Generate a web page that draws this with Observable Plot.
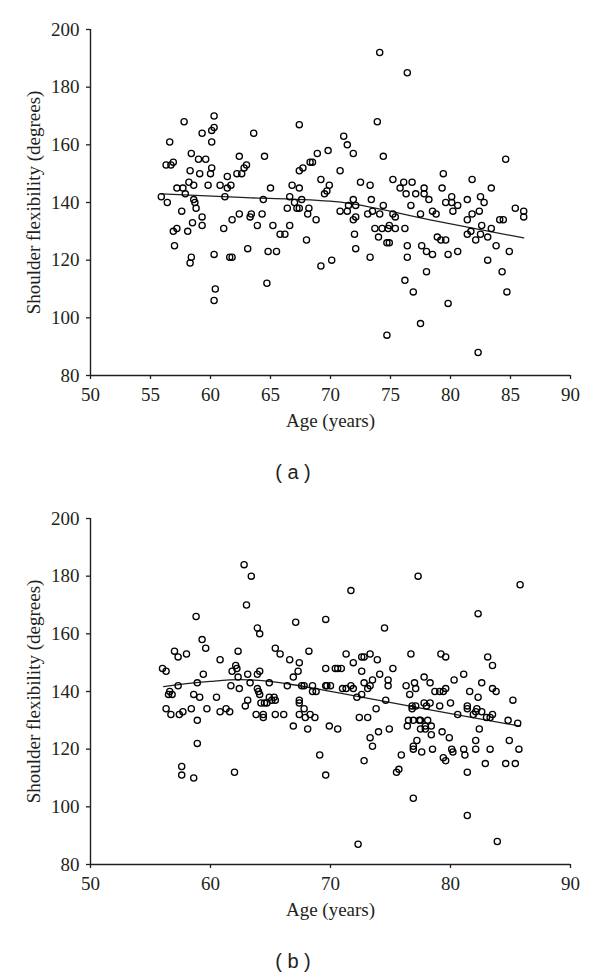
<!DOCTYPE html>
<html>
<head>
<meta charset="utf-8">
<script src="https://cdn.jsdelivr.net/npm/d3@7"></script>
<script src="https://cdn.jsdelivr.net/npm/@observablehq/plot@0.6"></script>
<style>
  html, body { margin: 0; padding: 0; background: #fff; }
  .panel { position: relative; width: 600px; }
  .cap { width: 600px; text-align: center; font-family: "Liberation Sans", Arial, sans-serif; font-size: 20px; color: #231f20; padding-right: 14px; box-sizing: border-box; white-space: pre; }
  svg { display: block; }
</style>
</head>
<body>
<div id="a" class="panel" style="height:489px"></div>
<div id="b" class="panel" style="height:487px"></div>
<script>
const yLabel = "Shoulder flexibility (degrees)";
const xLabel = "Age (years)";
const captions = ["( a )", "( b )"];
const yTicks = [80, 100, 120, 140, 160, 180, 200];
const xTicksA = [50, 55, 60, 65, 70, 75, 80, 85, 90];
const xTicksB = [50, 60, 70, 80, 90];

// Panel (a): [age, shoulder flexibility]
const pointsA = [
[55.9,142],[56.4,140],[56.3,153],[56.6,161],[56.7,153],[56.9,154],[56.9,130],[57.2,131],[57.0,125],[57.2,145],
[57.6,137],[57.7,145],[57.8,168],[57.9,143],[58.2,147],[58.3,151],[58.4,157],[58.1,130],[58.5,133],[58.4,121],
[58.3,119],[58.6,146],[58.6,141],[58.7,140],[58.8,138],[59.0,155],[59.1,150],[59.3,164],[59.3,135],[59.3,132],
[59.6,155],[59.8,146],[60.0,150],[60.1,152],[60.1,161],[60.1,165],[60.3,166],[60.3,170],[60.3,122],[60.4,110],
[60.3,106],[60.8,146],[61.1,131],[61.2,142],[61.4,149],[61.4,145],[61.7,146],[61.8,134],[61.6,121],[61.8,121],
[62.2,150],[62.4,156],[62.4,136],[62.6,150],[62.8,152],[63.0,153],[63.1,124],[63.3,135],[63.4,136],[63.6,164],
[63.9,132],[64.3,136],[64.4,141],[64.5,156],[64.7,112],[64.8,123],[65.0,145],[65.2,132],[65.5,123],[65.8,129],
[66.2,129],[66.6,142],[66.6,132],[66.8,146],[66.4,138],[67.0,140],[67.2,138],
[67.4,138],[67.4,145],[67.6,141],[67.4,167],[67.4,151],[67.7,152],[68.0,127],[68.1,136],[68.2,138],[68.3,154],
[68.5,154],[68.8,134],[68.9,157],[69.2,148],[69.2,118],[69.5,143],[69.7,144],[69.8,158],[69.9,146],[70.1,120],
[70.8,151],[70.8,137],[71.1,163],[71.4,160],[71.4,137],[71.5,139],[71.9,157],[71.9,141],[71.9,134],[72.1,139],
[72.1,135],[72.0,129],[72.1,124],[72.5,147],[73.3,146],[73.4,141],[73.1,136],[73.5,137],[73.3,121],[73.9,168],
[74.1,192],[73.7,131],[74.0,128],[74.1,136],[74.4,139],[74.4,156],[74.3,131],[74.7,126],[74.9,126],[74.9,132],
[74.8,131],[74.7,94],[75.2,148],[75.2,136],[75.4,135],[75.4,131],[75.8,145],[76.1,147],[76.3,143],[76.2,131],
[76.2,113],[76.4,185],[76.4,125],[76.4,121],[76.7,139],[76.8,147],[76.9,109],[77.1,143],[77.5,136],[77.5,98],
[77.6,125],[77.8,145],[77.8,143],[78.0,123],[78.0,116],[78.2,141],[78.5,137],[78.5,122],[78.8,136],[78.9,128],
[79.2,127],[79.6,127],[79.3,145],[79.4,150],[79.6,140],[79.8,122],[79.8,105],[80.1,142],[80.1,140],[80.2,137],
[80.6,139],[80.6,123],[81.4,141],[81.4,134],[81.4,129],[81.7,130],[81.8,148],[81.8,136],[82.1,127],[82.3,88],
[82.5,129],[82.4,137],[82.5,142],[82.6,132],[82.8,140],[83.1,128],[83.1,120],[83.4,131],[83.4,145],[83.8,125],
[84.1,134],[84.3,116],[84.4,134],[84.6,155],[84.7,109],[84.9,123],[85.4,138],[86.1,137],[86.1,135]
];

// Panel (b): [age, shoulder flexibility]
const pointsB = [
[56.0,148],[56.3,147],[56.3,134],[56.5,139],[56.6,140],[56.8,139],[56.7,132],[57.0,154],[57.3,142],[57.3,152],
[57.4,132],[57.6,114],[57.6,111],[57.7,133],[58.0,153],[58.4,134],[58.6,110],[58.6,139],[58.8,166],[58.9,143],
[58.9,130],[58.9,122],[59.1,138],[59.3,158],[59.4,146],[59.6,155],[59.7,134],[60.5,138],[60.8,151],[60.8,133],
[61.3,134],[61.6,133],[61.7,142],[61.8,147],[62.0,112],[62.1,149],[62.2,148],[62.3,154],[62.3,145],[62.4,141],
[62.8,184],[62.9,135],[63.0,170],[63.1,146],[63.1,137],[63.3,143],[63.4,180],[63.8,132],[63.9,162],[64.1,160],
[63.9,146],[64.1,147],[63.9,141],[64.0,140],[64.1,139],[64.2,136],[64.4,132],[64.4,131],[64.5,136],[64.7,136],
[64.9,143],[64.9,138],[65.1,137],[65.3,138],[65.4,155],[65.4,137],[65.4,132],[65.8,153],[66.1,132],[66.4,142],
[66.6,151],[66.9,128],[66.9,145],[67.1,164],[67.3,147],[67.4,150],[67.4,137],[67.4,136],[67.4,132],
[67.6,142],[67.8,142],[67.8,134],[67.9,131],[68.1,127],[68.2,154],[68.3,132],[68.5,142],[68.5,140],[68.8,140],
[68.7,131],[69.1,118],[69.6,165],[69.6,148],[69.6,142],[69.7,142],[70.0,142],[69.6,111],[69.9,128],[70.4,148],
[70.6,148],[70.9,148],[70.6,127],[71.0,141],[71.3,141],[71.3,153],[71.7,175],[71.7,142],[71.9,141],[71.9,150],
[72.2,138],[72.3,87],[72.4,131],[72.6,139],[72.6,147],[72.6,152],[72.8,143],[72.8,152],[72.8,116],[73.1,131],
[73.1,141],[73.3,153],[73.3,142],[73.3,124],[73.5,144],[73.5,121],[73.8,134],[73.9,151],[74.0,126],[74.1,146],
[74.5,162],[74.6,137],[74.8,142],[74.8,144],[74.9,127],[75.2,148],[75.5,112],[75.7,113],[75.9,118],[76.4,128],
[76.3,142],[76.5,130],[76.6,139],[76.7,153],[76.8,134],[76.8,135],[76.9,130],[76.9,103],[76.9,121],[76.9,120],
[77.0,143],[77.1,141],[77.1,135],[77.2,123],[77.3,180],[77.4,130],[77.5,130],[77.5,127],[77.6,119],[77.8,136],
[77.8,145],[77.9,127],[77.9,128],[78.0,135],[78.1,130],[78.3,143],[78.3,136],[78.4,125],[78.4,128],[78.5,120],
[78.7,140],[79.1,140],[79.1,135],[79.2,153],[79.3,126],[79.4,140],[79.4,117],[79.6,116],[79.6,141],[79.6,152],
[79.9,124],[80.0,136],[80.1,120],[80.2,119],[80.3,144],[80.6,132],[81.1,146],[81.1,120],[81.2,118],[81.4,135],
[81.4,134],[81.4,112],[81.4,97],[81.6,140],[81.9,132],[82.1,133],[82.1,123],[82.1,120],[82.2,134],[82.3,167],
[82.3,138],[82.4,127],[82.6,143],[82.6,133],[82.9,115],[83.0,131],[83.1,152],[83.3,120],[83.3,131],[83.5,149],
[83.5,132],[83.5,141],[83.8,140],[83.9,88],[84.6,115],[84.8,130],[84.9,123],[85.2,137],[85.4,115],[85.6,129],
[85.7,120],[85.8,177]
];

// Fitted trend lines
const trendA = [[55.9,143.0],[63.0,141.7],[70.4,140.3],[78.3,134.0],[86.1,127.7]];
const trendB = [[56.1,141.7],[58.0,142.7],[60.0,143.5],[62.5,144.1],[64.5,143.7],[66.5,142.6],[68.5,141.2],[70.8,139.4],[78.3,133.6],[85.8,128.0]];

const ink = "#231f20";
const serif = "'Liberation Serif', 'Times New Roman', serif";
const fs = 19;

function panel(points, trend, xTicks) {
  return Plot.plot({
    width: 600,
    height: 445,
    marginLeft: 90,
    marginRight: 30,
    marginTop: 29,
    marginBottom: 70,
    style: { fontFamily: serif, fontSize: fs + "px", color: ink, background: "#fff" },
    x: { domain: [50, 90] },
    y: { domain: [80, 200] },
    marks: [
      Plot.axisY({ ticks: yTicks, tickSize: 4, tickPadding: 7, label: null, stroke: ink, strokeWidth: 1.3, fill: ink, fontSize: fs, fontFamily: serif }),
      Plot.axisX({ ticks: xTicks, tickSize: 4, tickPadding: 8, label: null, stroke: ink, strokeWidth: 1.3, fill: ink, fontSize: fs, fontFamily: serif }),
      Plot.ruleX([50], { stroke: ink, strokeWidth: 1.4 }),
      Plot.ruleY([80], { stroke: ink, strokeWidth: 1.4 }),
      Plot.line(trend, { x: d => d[0], y: d => d[1], stroke: ink, strokeWidth: 1.3, curve: "monotone-x" }),
      Plot.dot(points, { x: d => d[0], y: d => d[1], r: 3.1, stroke: "#000", strokeWidth: 1.3, fill: "none" }),
      Plot.text([yLabel], { text: d => d, frameAnchor: "left", textAnchor: "middle", rotate: -90, dx: -57, fill: ink, fontSize: fs, fontFamily: serif }),
      Plot.text([xLabel], { text: d => d, frameAnchor: "bottom", textAnchor: "middle", dy: 51, fill: ink, fontSize: fs, fontFamily: serif })
    ]
  });
}

function build(id, points, trend, xTicks, caption) {
  const host = document.getElementById(id);
  host.appendChild(panel(points, trend, xTicks));
  const cap = document.createElement("div");
  cap.className = "cap";
  cap.style.height = "54px";
  cap.style.lineHeight = "54px";
  cap.textContent = caption;
  host.appendChild(cap);
}

build("a", pointsA, trendA, xTicksA, captions[0]);
build("b", pointsB, trendB, xTicksB, captions[1]);
</script>
</body>
</html>
